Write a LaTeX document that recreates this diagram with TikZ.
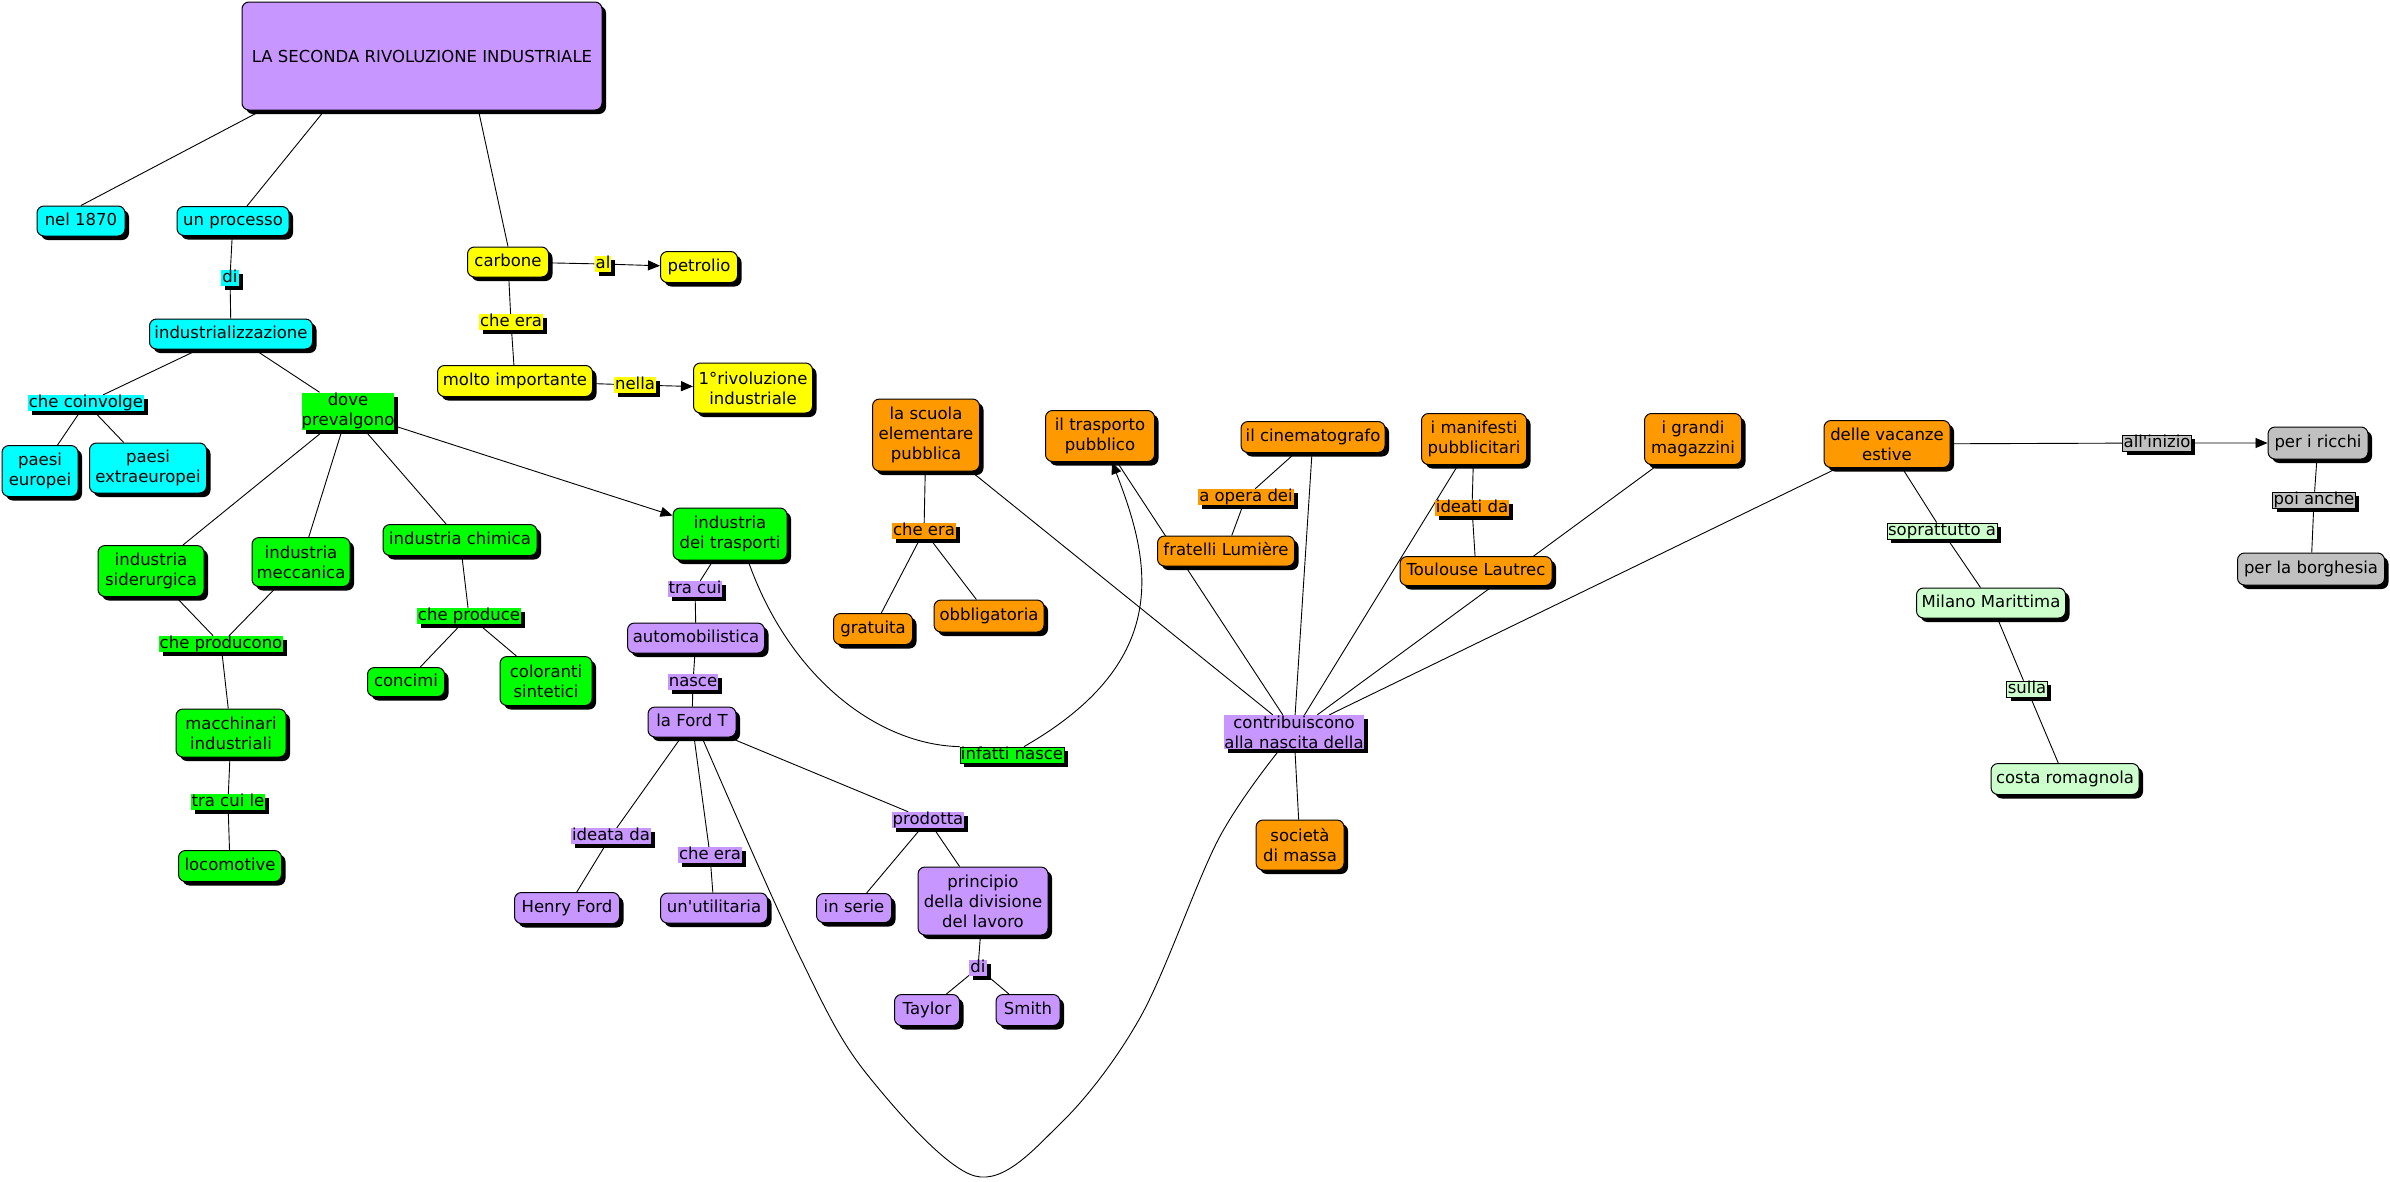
\documentclass[tikz,border=0pt]{standalone}
\usepackage{fontspec}
\setmainfont{DejaVu Sans}[Ligatures=TeXOff]
\usetikzlibrary{shadows,arrows.meta,backgrounds}
\definecolor{cpurple}{RGB}{200,150,255}
\definecolor{ccyan}{RGB}{0,255,255}
\definecolor{cyellow}{RGB}{255,255,0}
\definecolor{cgreen}{RGB}{0,255,0}
\definecolor{corange}{RGB}{255,153,0}
\definecolor{clgreen}{RGB}{204,255,204}
\definecolor{cgrey}{RGB}{192,192,192}
\tikzset{
  shd/.style={drop shadow={shadow xshift=4pt,shadow yshift=-4pt,fill=black,opacity=1}},
  cn/.style={draw=black,line width=1pt,rounded corners=7pt,fill=#1,inner sep=0pt,text height=12pt,text depth=4pt,shd},
  cnm/.style={draw=black,line width=1pt,rounded corners=7pt,fill=#1,inner sep=0pt,align=center,shd},
  lb/.style={fill=#1,inner xsep=1pt,inner ysep=0pt,text height=12pt,text depth=4pt,shd},
  lbb/.style={lb=#1,draw=black,line width=0.8pt},
  lbm/.style={fill=#1,inner sep=0pt,align=center,shd},
  sz/.style n args={2}{minimum width=#1pt,minimum height=#2pt},
  ln/.style={line width=0.9pt},
  ar/.style={line width=0.9pt,-{Triangle[length=12pt,width=10pt]}}
}
\begin{document}
\begin{tikzpicture}[x=1pt,y=-1pt,font=\fontsize{16.5}{20}\selectfont]
\useasboundingbox (0,0) rectangle (2390,1181);

% title
\node[cnm=cpurple,sz={360}{108}] (main) at (422,56) {LA SECONDA RIVOLUZIONE INDUSTRIALE};

% cyan
\node[cn=ccyan,sz={88}{30}] (n1870) at (81,221) {nel 1870};
\node[cn=ccyan,sz={112}{29}] (proc) at (233,221) {un processo};
\node[lb=ccyan] (di1) at (230,278) {di};
\node[cn=ccyan,sz={163}{30}] (indz) at (231,334) {industrializzazione};
\node[lb=ccyan] (coinv) at (86,403) {che coinvolge};
\node[cnm=ccyan,sz={76}{51}] (peur) at (40,471) {paesi\\europei};
\node[cnm=ccyan,sz={117}{50}] (pext) at (148,468) {paesi\\extraeuropei};

% green
\node[lbm=cgreen,sz={92}{37}] (dove) at (348,411) {dove\\prevalgono};
\node[cnm=cgreen,sz={106}{51}] (sider) at (151,571) {industria\\siderurgica};
\node[cnm=cgreen,sz={98}{49}] (mecc) at (301,562) {industria\\meccanica};
\node[cn=cgreen,sz={154}{31}] (chim) at (460,540) {industria chimica};
\node[cnm=cgreen,sz={114}{52}] (trasp) at (730,534) {industria\\dei trasporti};
\node[lb=cgreen] (chprod) at (221,644) {che producono};
\node[cnm=cgreen,sz={110}{48}] (macch) at (231,733) {macchinari\\industriali};
\node[lb=cgreen] (tracuile) at (228,802) {tra cui le};
\node[cn=cgreen,sz={103}{31}] (loco) at (230,866) {locomotive};
\node[lb=cgreen] (chprod2) at (469,616) {che produce};
\node[cn=cgreen,sz={77}{29}] (conc) at (406,682) {concimi};
\node[cnm=cgreen,sz={92}{49}] (color) at (546,681) {coloranti\\sintetici};
\node[lbb=cgreen] (infatti) at (1012,755) {infatti nasce};

% yellow
\node[cn=cyellow,sz={81}{30}] (carb) at (508,262) {carbone};
\node[lb=cyellow] (al) at (603,264) {al};
\node[cn=cyellow,sz={77}{31}] (petr) at (699,267) {petrolio};
\node[lb=cyellow] (chera1) at (511,322) {che era};
\node[cn=cyellow,sz={155}{31}] (molto) at (515,381) {molto importante};
\node[lb=cyellow] (nella) at (635,385) {nella};
\node[cnm=cyellow,sz={119}{50}] (riv1) at (753,388) {1°rivoluzione\\industriale};

% purple
\node[lb=cpurple] (tracui) at (695,589) {tra cui};
\node[cn=cpurple,sz={137}{30}] (auto) at (696,638) {automobilistica};
\node[lb=cpurple] (nasce) at (693,682) {nasce};
\node[cn=cpurple,sz={88}{30}] (fordt) at (692,722) {la Ford T};
\node[lb=cpurple] (ideata) at (611,836) {ideata da};
\node[lb=cpurple] (chera2) at (710,855) {che era};
\node[cn=cpurple,sz={105}{31}] (henry) at (567,908) {Henry Ford};
\node[cn=cpurple,sz={107}{30}] (utilit) at (714,908) {un'utilitaria};
\node[lb=cpurple] (prod) at (928,820) {prodotta};
\node[cn=cpurple,sz={75}{29}] (serie) at (854,908) {in serie};
\node[cnm=cpurple,sz={130}{68}] (princ) at (983,901) {principio\\della divisione\\del lavoro};
\node[lb=cpurple] (di2) at (978,968) {di};
\node[cn=cpurple,sz={65}{31}] (taylor) at (927,1010) {Taylor};
\node[cn=cpurple,sz={64}{31}] (smith) at (1028,1010) {Smith};
\node[lbm=cpurple,sz={136}{34}] (contrib) at (1294,732) {contribuiscono\\alla nascita della};

% orange
\node[cnm=corange,sz={107}{72}] (scuola) at (926,435) {la scuola\\elementare\\pubblica};
\node[cnm=corange,sz={109}{51}] (trpub) at (1100,436) {il trasporto\\pubblico};
\node[lb=corange] (chera3) at (924,531) {che era};
\node[cn=corange,sz={79}{31}] (grat) at (873,629) {gratuita};
\node[cn=corange,sz={110}{32}] (obbl) at (989,616) {obbligatoria};
\node[cn=corange,sz={137}{30}] (lumi) at (1226,551) {fratelli Lumière};
\node[cn=corange,sz={144}{31}] (cinema) at (1313,437) {il cinematografo};
\node[lb=corange] (opera) at (1246,497) {a opera dei};
\node[cnm=corange,sz={105}{51}] (manif) at (1474,439) {i manifesti\\pubblicitari};
\node[lb=corange] (ideati) at (1472,508) {ideati da};
\node[cn=corange,sz={152}{29}] (toul) at (1476,571) {Toulouse Lautrec};
\node[cnm=corange,sz={97}{51}] (magaz) at (1693,439) {i grandi\\magazzini};
\node[cnm=corange,sz={126}{47}] (vacan) at (1887,444) {delle vacanze\\estive};
\node[cnm=corange,sz={88}{50}] (massa) at (1300,845) {società\\di massa};

% grey and light green
\node[lbb=cgrey] (inizio) at (2157,443) {all'inizio};
\node[cn=cgrey,sz={100}{32}] (ricchi) at (2318,443) {per i ricchi};
\node[lbb=cgrey] (poi) at (2314,500) {poi anche};
\node[cn=cgrey,sz={147}{32}] (borgh) at (2311,569) {per la borghesia};
\node[lbb=clgreen] (sopr) at (1942,531) {soprattutto a};
\node[cn=clgreen,sz={149}{30}] (milano) at (1991,603) {Milano Marittima};
\node[lbb=clgreen] (sulla) at (2027,689) {sulla};
\node[cn=clgreen,sz={148}{31}] (costa) at (2065,779) {costa romagnola};

\begin{scope}[on background layer]
\draw[ln] ([xshift=20pt]main.south west) -- (n1870.north);
\draw[ln] ([xshift=83pt]main.south west) -- ([xshift=14pt]proc.north);
\draw[ln] ([xshift=237pt]main.south west) -- (carb.north);
\draw[ln] (proc) -- (di1) -- (indz);
\draw[ln] (indz) -- (coinv);
\draw[ln] (coinv) -- (peur);
\draw[ln] (coinv) -- (pext);
\draw[ln] (indz) -- (dove);
\draw[ln] (dove) -- (sider);
\draw[ln] (dove) -- (mecc);
\draw[ln] (dove) -- (chim);
\draw[ar] (dove) -- (trasp);
\draw[ln] (sider) -- (chprod);
\draw[ln] (mecc) -- (chprod);
\draw[ln] (chprod) -- (macch) -- (tracuile) -- (loco);
\draw[ln] (chim) -- (chprod2);
\draw[ln] (chprod2) -- (conc);
\draw[ln] (chprod2) -- (color);
\draw[ar] (carb) -- (al) -- (petr);
\draw[ln] (carb) -- (chera1) -- (molto);
\draw[ar] (molto) -- (nella) -- (riv1);
\draw[ln] (trasp) -- (tracui) -- (auto) -- (nasce) -- (fordt);
\draw[ln] (fordt) -- (ideata) -- (henry);
\draw[ln] (fordt) -- (chera2) -- (utilit);
\draw[ln] (fordt) -- (prod);
\draw[ln] (prod) -- (serie);
\draw[ln] (prod) -- (princ);
\draw[ln] (princ) -- (di2);
\draw[ln] (di2) -- (taylor);
\draw[ln] (di2) -- (smith);
\draw[ln] ([xshift=18pt]trasp.south) .. controls (790,680) and (880,745) .. (infatti.north west);
\draw[ar] ([xshift=12pt]infatti.north) .. controls (1175,660) and (1150,560) .. ([xshift=12pt]trpub.south);
\draw[ln] plot[smooth,tension=0.55] coordinates {([xshift=10pt]fordt.south) (799,955) (866,1073) (975,1176) (1060,1124) (1141,1016) (1218,840) ([xshift=-14pt]contrib.south)};
\draw[ln] (scuola) -- (contrib);
\draw[ln] (trpub) -- (contrib);
\draw[ln] (cinema) -- (contrib);
\draw[ln] (manif) -- (contrib);
\draw[ln] (magaz) -- (contrib);
\draw[ln] (vacan) -- (contrib);
\draw[ln] (contrib) -- (massa);
\draw[ln] (scuola) -- (chera3);
\draw[ln] (chera3) -- (grat);
\draw[ln] (chera3) -- (obbl);
\draw[ln] (cinema) -- (opera) -- (lumi);
\draw[ln] (manif) -- (ideati) -- (toul);
\draw[ar] (vacan) -- (inizio) -- (ricchi);
\draw[ln] (ricchi) -- (poi) -- (borgh);
\draw[ln] (vacan) -- (sopr) -- (milano);
\draw[ln] (milano) -- (sulla) -- (costa);
\end{scope}
\end{tikzpicture}
\end{document}
